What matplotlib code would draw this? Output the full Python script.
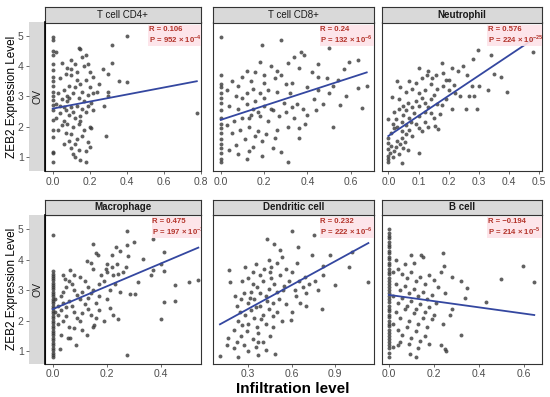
import numpy as np
import matplotlib
matplotlib.use("Agg")
import matplotlib.pyplot as plt

plt.rcParams['font.family'] = ['Liberation Sans', 'DejaVu Sans']
plt.rcParams['mathtext.fontset'] = 'custom'
plt.rcParams['mathtext.rm'] = 'Liberation Sans'
plt.rcParams['mathtext.bf'] = 'Liberation Sans:bold'

# cell types (strip titles)
CELL_TYPES = ['T cell CD4+', 'T cell CD8+', 'Neutrophil', 'Macrophage', 'Dendritic cell', 'B cell']

# correlation text
R_TEXT = ['R = 0.106', 'R = 0.24', 'R = 0.576', 'R = 0.475', 'R = 0.232', 'R = \u22120.194']
P_TEXT = [r'P = 952 × 10$^{\mathbf{-4}}$', r'P = 132 × 10$^{\mathbf{-6}}$', r'P = 224 × 10$^{\mathbf{-25}}$',
          r'P = 197 × 10$^{\mathbf{-17}}$', r'P = 222 × 10$^{\mathbf{-6}}$', r'P = 214 × 10$^{\mathbf{-5}}$']

# fitted lines (x start, x end, y start, y end)
fit_cd4 = [0.0, 0.78, 2.60, 3.50]
fit_cd8 = [0.0, 0.674, 2.23, 3.79]
fit_neu = [0.0, 0.483, 1.70, 4.90]
fit_mac = [0.0, 0.537, 2.38, 4.40]
fit_den = [0.104, 1.131, 1.885, 4.55]
fit_b = [0.0, 0.646, 2.85, 2.19]

# scatter points (infiltration, ZEB2 expression)
cd4_pts = [(0, 4.96), (0, 4.85), (0, 4.48), (0, 4.37), (0, 4.07), (0, 3.88), (0, 3.64), (0, 3.5), (0, 3.35),
           (0, 3.16), (0, 3.0), (0, 2.89), (0, 2.73), (0, 2.56), (0, 2.23), (0, 1.9), (0, 1.68), (0, 1.19),
           (0, 1.13), (0, 0.86),
           (0.02, 4.45), (0.05, 4.1), (0.08, 3.95), (0.1, 4.2), (0.14, 4.6), (0.15, 4.55), (0.16, 4.3),
           (0.17, 4.0), (0.12, 4.05), (0.19, 4.05), (0.13, 3.8), (0.07, 3.75), (0.04, 3.6), (0.1, 3.7),
           (0.18, 3.55), (0.2, 3.8), (0.22, 3.65), (0.25, 3.4), (0.27, 3.9), (0.3, 3.75), (0.32, 4.1),
           (0.36, 3.5), (0.40, 3.48), (0.40, 5.0), (0.32, 4.7), (0.24, 3.15), (0.3, 3.15), (0.22, 3.1),
           (0.2, 3.3), (0.15, 3.4), (0.12, 3.3), (0.09, 3.35), (0.06, 3.2), (0.03, 3.1), (0.05, 2.9),
           (0.08, 3.0), (0.11, 3.1), (0.14, 2.95), (0.17, 2.85), (0.19, 2.7), (0.21, 2.8), (0.16, 2.6),
           (0.13, 2.7), (0.1, 2.65), (0.07, 2.55), (0.04, 2.45), (0.02, 2.3), (0.06, 2.2), (0.09, 2.4),
           (0.12, 2.3), (0.15, 2.35), (0.18, 2.5), (0.22, 2.55), (0.28, 2.7), (0.3, 3.0), (0.2, 2.0),
           (0.21, 1.95), (0.17, 1.9), (0.14, 2.1), (0.11, 2.0), (0.08, 2.1), (0.05, 2.05), (0.03, 1.9),
           (0.07, 1.8), (0.1, 1.75), (0.13, 1.6), (0.09, 1.55), (0.12, 1.45), (0.16, 1.7), (0.19, 1.5),
           (0.29, 1.7), (0.06, 1.45), (0.1, 1.3), (0.11, 1.1), (0.12, 1.0), (0.14, 1.25), (0.18, 1.2),
           (0.2, 1.35), (0.15, 0.9), (0.18, 0.85), (0.78, 2.45), (0.04, 2.7), (0.08, 2.85), (0.16, 3.15),
           (0.19, 3.05), (0.13, 3.55), (0.1, 3.9), (0.18, 4.35), (0.11, 2.5), (0.15, 2.2), (0.06, 2.65),
           (0.02, 2.75), (0.09, 2.95)]

cd8_pts = [(0, 4.95), (0, 3.7), (0, 3.4), (0, 3.3), (0, 3.1), (0, 2.95), (0, 2.8), (0, 2.55), (0, 2.3),
           (0, 2.1), (0, 1.95), (0, 1.8), (0, 1.6), (0, 1.45), (0, 1.3), (0, 1.15), (0, 0.95), (0, 0.85),
           (0.28, 4.84), (0.19, 4.7), (0.50, 4.6), (0.37, 4.46), (0.385, 4.37), (0.34, 4.3), (0.59, 4.12),
           (0.635, 4.2), (0.31, 4.1), (0.45, 4.07), (0.18, 4.12), (0.674, 3.33), (0.635, 3.27), (0.65, 2.62),
           (0.55, 2.73), (0.52, 1.99), (0.36, 1.63), (0.31, 0.86), (0.28, 1.19), (0.12, 0.93), (0.39, 2.1),
           (0.23, 4.0), (0.12, 3.85), (0.36, 3.95), (0.26, 3.85), (0.45, 3.65), (0.49, 3.6), (0.54, 3.55),
           (0.57, 3.9), (0.42, 3.8), (0.14, 3.5), (0.08, 3.35), (0.1, 3.65), (0.05, 3.5), (0.2, 3.45),
           (0.25, 3.6), (0.28, 3.7), (0.3, 3.4), (0.33, 3.45), (0.4, 3.3), (0.45, 3.2), (0.5, 3.1),
           (0.52, 3.35), (0.58, 3.0), (0.47, 2.75), (0.43, 2.9), (0.38, 2.6), (0.35, 2.75), (0.32, 3.1),
           (0.26, 3.15), (0.22, 3.2), (0.18, 3.1), (0.15, 3.25), (0.12, 3.1), (0.1, 2.95), (0.07, 3.0),
           (0.03, 3.2), (0.04, 2.7), (0.08, 2.6), (0.12, 2.75), (0.16, 2.85), (0.2, 2.7), (0.24, 2.55),
           (0.27, 2.35), (0.3, 2.5), (0.34, 2.3), (0.4, 2.4), (0.44, 2.55), (0.36, 1.95), (0.31, 2.0),
           (0.26, 1.9), (0.22, 2.2), (0.18, 2.35), (0.14, 2.4), (0.1, 2.3), (0.06, 2.2), (0.03, 2.05),
           (0.05, 1.8), (0.09, 1.9), (0.13, 2.0), (0.17, 1.85), (0.21, 1.75), (0.25, 1.65), (0.19, 1.55),
           (0.15, 1.35), (0.11, 1.6), (0.07, 1.4), (0.04, 1.25), (0.08, 1.1), (0.13, 1.2), (0.19, 1.05),
           (0.24, 1.3), (0.16, 1.7), (0.2, 2.95), (0.23, 2.6), (0.17, 2.5), (0.29, 2.8), (0.33, 2.65),
           (0.15, 2.6), (0.13, 2.3), (0.2, 3.7), (0.16, 3.8)]

neu_pts = [(0.0, 0.86), (0.0, 0.95), (0.0, 1.05), (0.005, 1.15), (0.0, 1.28), (0.01, 1.38), (0.0, 1.46),
           (0.015, 1.0), (0.02, 1.2), (0.025, 1.35), (0.03, 1.55), (0.035, 1.1), (0.044, 0.82), (0.04, 1.45),
           (0.045, 1.65), (0.05, 1.3), (0.055, 1.5), (0.06, 1.75), (0.065, 1.25), (0.0, 1.62), (0.01, 1.8),
           (0.02, 1.95), (0.0, 2.26), (0.015, 2.1), (0.03, 2.0), (0.045, 2.15), (0.06, 2.05), (0.07, 1.9),
           (0.08, 1.7), (0.09, 2.1), (0.1, 1.95), (0.103, 1.15), (0.11, 1.85), (0.12, 2.15), (0.13, 2.0),
           (0.155, 2.03), (0.166, 1.92), (0.17, 2.42), (0.15, 2.3), (0.14, 2.45), (0.12, 2.5), (0.1, 2.35),
           (0.085, 2.45), (0.07, 2.3), (0.05, 2.4), (0.035, 2.6), (0.02, 2.5), (0.013, 2.98), (0.035, 2.9),
           (0.05, 2.7), (0.065, 2.8), (0.08, 2.65), (0.09, 2.85), (0.1, 2.7), (0.11, 2.95), (0.12, 2.8),
           (0.13, 2.65), (0.14, 2.9), (0.15, 3.05), (0.16, 2.75), (0.177, 2.73), (0.19, 2.9), (0.21, 2.58),
           (0.256, 2.58), (0.294, 2.6), (0.237, 3.0), (0.268, 3.02), (0.285, 3.02), (0.22, 3.1), (0.2, 3.2),
           (0.18, 3.35), (0.16, 3.25), (0.14, 3.4), (0.12, 3.2), (0.1, 3.1), (0.08, 3.25), (0.06, 3.15),
           (0.04, 3.3), (0.03, 3.5), (0.07, 3.5), (0.092, 3.44), (0.11, 3.6), (0.127, 3.71), (0.145, 3.6),
           (0.158, 3.71), (0.18, 3.77), (0.19, 3.55), (0.2, 3.55), (0.218, 3.38), (0.232, 3.82), (0.276, 3.33),
           (0.33, 3.22), (0.392, 3.13), (0.35, 3.75), (0.373, 3.63), (0.248, 3.99), (0.177, 4.1), (0.28, 4.23),
           (0.34, 4.37), (0.298, 4.52), (0.48, 4.45), (0.1, 3.95), (0.13, 3.85), (0.21, 3.95), (0.26, 3.7),
           (0.3, 3.35), (0.06, 2.55), (0.025, 2.25), (0.045, 1.85), (0.075, 2.15)]

mac_pts = [(0, 4.83), (0, 3.62), (0, 3.55), (0, 3.47), (0, 3.41), (0, 3.33), (0, 3.24), (0, 3.18), (0, 3.1),
           (0, 3.03), (0, 2.95), (0, 2.87), (0, 2.8), (0, 2.73), (0, 2.64), (0, 2.57), (0, 2.47), (0, 2.41),
           (0, 2.32), (0, 2.25), (0, 2.15), (0, 2.09), (0, 2.0), (0, 1.93), (0, 1.83), (0, 1.77), (0, 1.67),
           (0, 1.61), (0, 1.52), (0, 1.43), (0, 1.37), (0, 1.27), (0, 1.2), (0, 1.11), (0, 1.05), (0, 0.96),
           (0, 0.89), (0, 0.81),
           (0.274, 4.95), (0.37, 4.69), (0.30, 4.58), (0.274, 4.47), (0.148, 4.53), (0.235, 4.42), (0.25, 4.28),
           (0.41, 4.26), (0.16, 4.23), (0.168, 4.15), (0.217, 4.15), (0.278, 4.11), (0.333, 4.04), (0.4, 3.87),
           (0.126, 3.95), (0.14, 3.9), (0.2, 3.87), (0.238, 3.87), (0.27, 3.76), (0.196, 3.71), (0.223, 3.49),
           (0.065, 3.66), (0.08, 3.49), (0.038, 3.51), (0.046, 3.38), (0.363, 3.49), (0.37, 3.68), (0.41, 3.62),
           (0.452, 3.16), (0.504, 3.27), (0.534, 3.33), (0.315, 3.27), (0.287, 2.89), (0.302, 2.89), (0.41, 2.62),
           (0.452, 2.65), (0.4, 2.07), (0.21, 2.43), (0.223, 2.18), (0.24, 2.07), (0.152, 1.85), (0.126, 1.52),
           (0.087, 1.2), (0.028, 1.09), (0.274, 0.87), (0.065, 1.42), (0.055, 1.45),
           (0.01, 2.3), (0.02, 2.5), (0.03, 2.8), (0.04, 2.95), (0.05, 3.1), (0.06, 3.3), (0.07, 3.2), (0.08, 3.0),
           (0.09, 2.85), (0.1, 2.7), (0.11, 2.95), (0.12, 3.3), (0.13, 3.1), (0.14, 2.9), (0.15, 3.0), (0.16, 2.6),
           (0.17, 3.2), (0.18, 3.5), (0.19, 3.3), (0.2, 3.6), (0.22, 3.75), (0.24, 3.55), (0.26, 3.6), (0.15, 3.7),
           (0.1, 3.45), (0.01, 2.7), (0.02, 2.2), (0.03, 2.35), (0.04, 2.6), (0.05, 2.45), (0.06, 2.65),
           (0.07, 2.5), (0.08, 2.3), (0.09, 2.1), (0.1, 2.0), (0.11, 2.25), (0.12, 2.55), (0.13, 2.4), (0.14, 2.2),
           (0.15, 1.8), (0.16, 2.1), (0.17, 2.35), (0.19, 2.0), (0.2, 2.7), (0.02, 1.9), (0.04, 2.0), (0.06, 1.8),
           (0.03, 1.55), (0.05, 2.15), (0.08, 1.75), (0.11, 1.7), (0.13, 2.75), (0.17, 2.8), (0.25, 2.95),
           (0.23, 3.2), (0.21, 3.0)]

den_pts = [(0.104, 0.85), (0.23, 0.81), (0.37, 0.89), (0.485, 0.92), (0.15, 1.22), (0.157, 1.42), (0.168, 3.66),
           (0.173, 3.27), (0.605, 4.95), (0.757, 4.83), (0.43, 4.69), (0.48, 4.53), (0.646, 4.42), (0.52, 4.31),
           (0.74, 4.15), (0.865, 4.15), (1.015, 4.26), (0.997, 3.77), (1.13, 3.27), (0.9, 3.16), (0.815, 3.79),
           (0.808, 2.4), (0.69, 3.44), (0.593, 2.02), (0.473, 1.8),
           (0.2, 1.1), (0.22, 1.3), (0.25, 1.5), (0.27, 1.2), (0.3, 1.0), (0.33, 1.4), (0.35, 1.15), (0.37, 1.6),
           (0.4, 1.3), (0.42, 1.05), (0.45, 1.5), (0.2, 1.7), (0.23, 2.0), (0.26, 1.85), (0.28, 2.2), (0.3, 1.9),
           (0.32, 2.35), (0.34, 2.1), (0.36, 1.8), (0.38, 2.5), (0.4, 2.2), (0.42, 1.9), (0.44, 2.4), (0.47, 2.6),
           (0.5, 2.3), (0.53, 2.0), (0.56, 2.55), (0.6, 2.3), (0.63, 2.8), (0.66, 2.6), (0.7, 2.9), (0.22, 2.5),
           (0.25, 2.7), (0.27, 2.9), (0.3, 2.6), (0.32, 2.95), (0.34, 2.7), (0.36, 3.1), (0.38, 2.9), (0.4, 3.3),
           (0.42, 2.8), (0.44, 3.05), (0.46, 3.4), (0.48, 3.2), (0.5, 2.95), (0.52, 3.5), (0.55, 3.15), (0.58, 3.3),
           (0.62, 3.0), (0.65, 3.3), (0.68, 3.1), (0.72, 3.2), (0.3, 3.4), (0.33, 3.6), (0.35, 3.85), (0.38, 3.5),
           (0.41, 3.7), (0.44, 4.0), (0.46, 3.75), (0.5, 3.9), (0.53, 4.1), (0.56, 3.7), (0.6, 3.6), (0.64, 3.9),
           (0.26, 3.3), (0.28, 3.75), (0.24, 2.3), (0.29, 1.65), (0.31, 2.75), (0.35, 2.45), (0.39, 2.05),
           (0.43, 2.65), (0.47, 2.15), (0.51, 2.7), (0.54, 3.0), (0.7, 2.5), (0.76, 3.3), (0.78, 3.0), (0.82, 3.5),
           (0.21, 2.8), (0.33, 3.2), (0.37, 1.3), (0.45, 3.6)]

b_pts = [(0, 5.0), (0, 4.88), (0, 4.79), (0, 4.7), (0, 4.58), (0, 4.5), (0, 4.41), (0, 4.3), (0, 4.22), (0, 4.1),
         (0, 4.02), (0, 3.9), (0, 3.82), (0, 3.7), (0, 3.61), (0, 3.52), (0, 3.4), (0, 3.3), (0, 3.22), (0, 3.1),
         (0, 3.0), (0, 2.92), (0, 2.8), (0, 2.71), (0, 2.62), (0, 2.5), (0, 2.4), (0, 2.31), (0, 2.2), (0, 2.12),
         (0, 2.0), (0, 1.9), (0, 1.82), (0, 1.7), (0, 1.6), (0, 1.5), (0, 1.4), (0, 1.31), (0, 1.2), (0, 1.1),
         (0, 0.95), (0, 0.81),
         (0.238, 4.23), (0.144, 4.15), (0.097, 4.15), (0.15, 4.1), (0.594, 3.8), (0.245, 3.79), (0.5, 3.38),
         (0.646, 3.27), (0.43, 2.62), (0.345, 3.08), (0.32, 3.3), (0.282, 3.44), (0.322, 1.55), (0.24, 1.91),
         (0.27, 2.18), (0.23, 1.2), (0.248, 1.09), (0.253, 1.0), (0.122, 0.81), (0.092, 0.92), (0.018, 1.14),
         (0.04, 1.2),
         (0.02, 3.6), (0.04, 3.7), (0.06, 3.55), (0.08, 3.4), (0.1, 3.6), (0.12, 3.3), (0.14, 3.45), (0.16, 3.2),
         (0.18, 3.5), (0.2, 3.35), (0.22, 3.1), (0.03, 3.2), (0.05, 3.0), (0.07, 3.15), (0.09, 2.9), (0.11, 3.05),
         (0.13, 2.8), (0.15, 2.95), (0.17, 2.7), (0.19, 2.85), (0.21, 2.6), (0.02, 2.8), (0.04, 2.6), (0.06, 2.75),
         (0.08, 2.5), (0.1, 2.65), (0.12, 2.4), (0.14, 2.55), (0.16, 2.3), (0.18, 2.45), (0.2, 2.2), (0.03, 2.3),
         (0.05, 2.1), (0.07, 2.4), (0.09, 2.0), (0.11, 2.25), (0.13, 1.9), (0.15, 2.1), (0.17, 1.8), (0.19, 2.05),
         (0.02, 1.9), (0.04, 1.7), (0.06, 1.55), (0.08, 1.8), (0.1, 1.45), (0.12, 1.65), (0.14, 1.35), (0.16, 1.5),
         (0.05, 1.3), (0.09, 1.25), (0.13, 1.1), (0.25, 2.9), (0.28, 2.4), (0.23, 3.6), (0.11, 3.9), (0.07, 3.85),
         (0.03, 4.0), (0.34, 2.75), (0.18, 1.25)]

ALL_PTS = [cd4_pts, cd8_pts, neu_pts, mac_pts, den_pts, b_pts]
ALL_FITS = [fit_cd4, fit_cd8, fit_neu, fit_mac, fit_den, fit_b]

X_TICKS = [[0.0, 0.2, 0.4, 0.6, 0.8], [0.0, 0.2, 0.4, 0.6], [0.0, 0.1, 0.2, 0.3, 0.4, 0.5],
           [0.0, 0.2, 0.4], [0.3, 0.6, 0.9], [0.0, 0.2, 0.4, 0.6]]
X_LIMS = [(-0.04, 0.80), (-0.034, 0.709), (-0.022, 0.508), (-0.027, 0.545), (0.058, 1.172), (-0.031, 0.679)]

# pixel layout (left, right, top, bottom) of the panels
W, H = 550, 397
boxes = [(45.3, 200.5, 22.5, 171), (213.3, 374.3, 22.5, 171), (381.7, 541.7, 22.5, 171),
         (45.3, 200.5, 215, 363.5), (213.3, 374.3, 215, 363.5), (382, 541.7, 215, 363.5)]
row_ylim = [(0.55, 5.43), (0.6, 5.47)]

fig = plt.figure(figsize=(W / 100, H / 100), dpi=100)

def px_axes(l, r, t, b):
    return fig.add_axes([l / W, 1 - b / H, (r - l) / W, (b - t) / H])

frame_col = '#333333'
for i in range(6):
    l, r, t, b = boxes[i]
    row = i // 3
    ax = px_axes(l, r, t, b)
    pts = np.array(ALL_PTS[i])
    ax.scatter(pts[:, 0], pts[:, 1], s=8, color='#3a3a3a', alpha=0.8, linewidths=0, zorder=2)
    f = ALL_FITS[i]
    ax.plot([f[0], f[1]], [f[2], f[3]], color='#3447a0', lw=1.3, zorder=3)
    ax.set_xlim(*X_LIMS[i])
    ax.set_ylim(*row_ylim[row])
    ax.set_xticks(X_TICKS[i])
    ax.set_xticklabels(['%.1f' % v for v in X_TICKS[i]])
    ax.set_yticks([])
    ax.tick_params(axis='x', length=2.5, width=0.6, color='#555555', labelsize=7.5,
                   labelcolor='#4d4d4d', pad=1.5)
    for sp in ax.spines.values():
        sp.set_color(frame_col)
        sp.set_linewidth(0.8)
    ann_x = 0.69 if i == 3 else 0.665
    ann_y = 0.978 if row == 0 else 0.982
    box = dict(facecolor='#fde3e8', edgecolor='none', pad=0.6, alpha=0.9)
    ax.text(ann_x, ann_y, R_TEXT[i] + '\n' + P_TEXT[i], transform=ax.transAxes, fontsize=5.6,
            fontweight='bold', linespacing=1.05, color='#b3342b', va='top', ha='left',
            bbox=box, clip_on=True, zorder=4)

    # top strip
    st = px_axes(l, r, t - 15.5, t)
    st.set_facecolor('#d9d9d9')
    st.set_xticks([])
    st.set_yticks([])
    for sp in st.spines.values():
        sp.set_color(frame_col)
        sp.set_linewidth(0.8)
    st.text(0.5, 0.5, CELL_TYPES[i], ha='center', va='center', fontsize=7,
            fontweight='normal' if i < 2 else 'bold', color='#1a1a1a')

    # OV strip with y ticks on first column
    if i % 3 == 0:
        ov = px_axes(29.3, l, t, b)
        ov.set_facecolor('#d9d9d9')
        ov.set_ylim(*row_ylim[row])
        ov.set_xticks([])
        ov.set_yticks([1, 2, 3, 4, 5])
        ov.tick_params(axis='y', length=2.5, width=0.6, color='#555555', labelsize=7.5,
                       labelcolor='#4d4d4d', pad=1.5)
        for sp in ov.spines.values():
            sp.set_visible(False)
        ov.spines['right'].set_visible(True)
        ov.spines['right'].set_color('black')
        ov.spines['right'].set_linewidth(1.2)
        ov.text(0.5, 0.5, 'OV', rotation=90, ha='center', va='center', fontsize=7.5,
                color='#1a1a1a', transform=ov.transAxes)

fig.text(12 / W, 1 - 96.8 / H, 'ZEB2 Expression Level', rotation=90, ha='center', va='center', fontsize=8.5)
fig.text(12 / W, 1 - 289 / H, 'ZEB2 Expression Level', rotation=90, ha='center', va='center', fontsize=8.5)
fig.text(293 / W, 1 - 389 / H, 'Infiltration level', ha='center', va='center', fontsize=11, fontweight='bold')

fig.savefig('out.png', dpi=100)
